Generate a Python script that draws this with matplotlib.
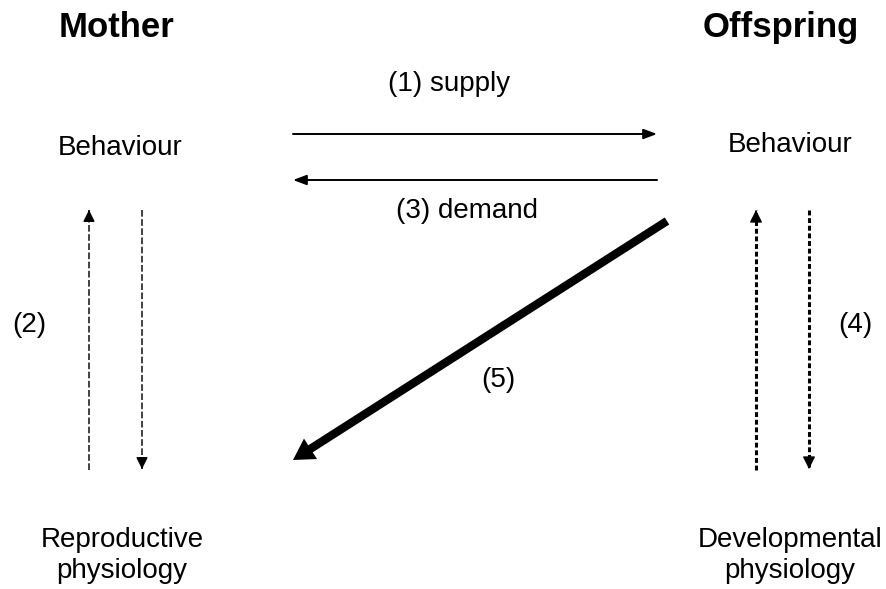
import matplotlib.pyplot as plt

plt.rcParams["font.family"] = ["Liberation Sans", "DejaVu Sans"]

# headers and node labels (pixel coords of the original drawing, y = baseline)
headers = ["Mother", "Offspring"]
header_x = [117, 781]
nodes = ["Behaviour", "Behaviour", "Reproductive\nphysiology", "Developmental\nphysiology"]
node_xy = [(120, 155), (790, 152), (122, 547), (790, 547)]
labels = ["(1) supply", "(3) demand", "(2)", "(4)", "(5)"]
label_xy = [(449, 91), (467, 218), (29, 332), (855, 332), (498, 387)]

# arrows: (x0, y0, x1, y1)
solid_arrows = [(293, 134, 657, 134), (657, 180, 293, 180)]
mother_arrows = [(89, 470, 89, 210), (142, 210, 142, 469)]
offspring_arrows = [(756, 470, 756, 210), (809, 210, 809, 469)]
thick_arrow = (667, 221, 293, 460)


def draw_head(ax, x0, y0, x1, y1, size):
    # tiny segment at the tip to get a filled head
    dx, dy = x1 - x0, y1 - y0
    n = (dx ** 2 + dy ** 2) ** 0.5
    ax.annotate("", xy=(x1, y1), xytext=(x1 - dx / n * 2, y1 - dy / n * 2),
                arrowprops=dict(arrowstyle=f"-|>,head_length={size},head_width={size * 0.5}",
                                color="black", lw=1, shrinkA=0, shrinkB=0))


fig = plt.figure(figsize=(8.87, 5.89), dpi=100)
ax = fig.add_axes([0, 0, 1, 1])
ax.set_xlim(0, 887)
ax.set_ylim(589, 0)
ax.axis("off")

for h, x in zip(headers, header_x):
    ax.text(x, 37, h, fontsize=25, fontweight="bold", ha="center", va="baseline")
for t, (x, y) in zip(nodes, node_xy):
    for i, line in enumerate(t.split("\n")):
        ax.text(x, y + i * 31, line, fontsize=20, ha="center", va="baseline")
for t, (x, y) in zip(labels, label_xy):
    ax.text(x, y, t, fontsize=20, ha="center", va="baseline")

for x0, y0, x1, y1 in solid_arrows:
    ax.annotate("", xy=(x1, y1), xytext=(x0, y0),
                arrowprops=dict(arrowstyle="-|>,head_length=0.8,head_width=0.3",
                                color="black", lw=1.4, shrinkA=0, shrinkB=0))

for x0, y0, x1, y1 in mother_arrows:
    ax.plot([x0, x1], [y0, y1], color="#222222", lw=1.2, dashes=(4, 1.5))
    draw_head(ax, x0, y0, x1, y1, 0.7)

for x0, y0, x1, y1 in offspring_arrows:
    ax.plot([x0, x1], [y0, y1], color="black", lw=2.2, dashes=(1.6, 0.9))
    draw_head(ax, x0, y0, x1, y1, 0.75)

x0, y0, x1, y1 = thick_arrow
ax.annotate("", xy=(x1, y1), xytext=(x0, y0),
            arrowprops=dict(arrowstyle="-|>,head_length=0.6,head_width=0.35",
                            color="black", lw=6, shrinkA=0, shrinkB=0,
                            joinstyle="miter", capstyle="butt"))

fig.savefig("out.png", dpi=100)
